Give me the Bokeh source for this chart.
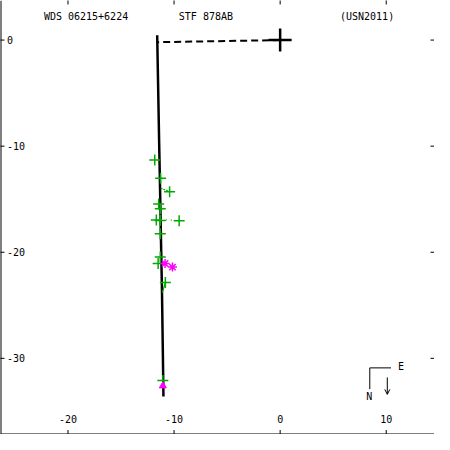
import numpy as np
from bokeh.plotting import figure
from bokeh.models import Range1d, Span, Arrow, OpenHead, ColumnDataSource
from bokeh.core.properties import value
from bokeh.embed import file_html
from bokeh.resources import INLINE

# ---------------- data ----------------
# orbit arc (apparent relative orbit, arcsec-like units)
orbit_x = [-11.59, -11.50, -11.41, -11.32, -11.23, -11.14, -11.05, -11.00]
orbit_y = [0.45, -4.45, -9.45, -14.0, -19.0, -23.55, -29.9, -33.6]

# line of nodes / periastron line from primary
node_x = [0.0, -11.55]
node_y = [0.0, -0.2]

# micrometer observations (green +)
micro_x = [-11.82, -11.27, -10.42, -11.45, -11.30, -11.67, -11.30, -9.52,
           -11.30, -11.30, -11.50, -10.82, -11.06]
micro_y = [-11.3, -13.03, -14.3, -15.45, -15.9, -16.97, -17.0, -17.03,
           -18.25, -20.45, -21.06, -22.85, -32.1]

# residual lines (observed -> predicted)
res_obs_x = [-10.42, -9.52, -10.82]
res_obs_y = [-14.3, -17.03, -22.85]
res_pred_x = [-11.27, -11.25, -11.10]
res_pred_y = [-13.95, -16.9, -23.8]
res_dash = ["2 1", "1 4", "solid"]

# speckle observations (magenta *)
speck_x = [-10.85, -10.15]
speck_y = [-21.06, -21.4]

# other technique (magenta triangle)
tri_x = [-11.06]
tri_y = [-32.6]

# axis ticks
xticks = [-20, -10, 0, 10]
yticks = [0, -10, -20, -30]

X0, X1 = -26.36, 14.55
Y0, Y1 = -37.18, 3.73

FONT = value("DejaVu Sans Mono")
GREEN = "#00aa00"
MAG = "#ff00ff"

p = figure(width=434, height=434, output_backend="svg", toolbar_location=None,
           x_range=Range1d(X0, X1), y_range=Range1d(Y0, Y1),
           min_border=0, outline_line_color=None)
p.axis.visible = False
p.grid.visible = False
p.background_fill_color = "white"

# frame lines (left & bottom)
p.add_layout(Span(location=X0, dimension="height", line_color="black", line_width=2))
p.add_layout(Span(location=Y0, dimension="width", line_color="black", line_width=2))

# tick marks
p.scatter(x=xticks, y=[Y1] * len(xticks), marker="dash", angle=np.pi / 2, size=8,
          line_color="black", line_width=1)
p.scatter(x=xticks, y=[Y0] * len(xticks), marker="dash", angle=np.pi / 2, size=9,
          line_color="black", line_width=1)
p.scatter(x=[X0] * len(yticks), y=yticks, marker="dash", size=8,
          line_color="black", line_width=1)
p.scatter(x=[X1] * len(yticks), y=yticks, marker="dash", size=8,
          line_color="black", line_width=1)

# tick labels
p.text(x=xticks, y=[-35.7] * len(xticks), text=[str(t) for t in xticks],
       text_font=FONT, text_font_size="10px", text_align="center",
       text_baseline="middle", text_color="black")
p.text(x=[-25.75] * len(yticks), y=yticks, text=[str(t) for t in yticks],
       text_font=FONT, text_font_size="10px", text_align="left",
       text_baseline="middle", text_color="black")

# header
p.text(x=[-22.27], y=[2.18], text=["WDS 06215+6224"], text_font=FONT,
       text_font_size="10px", text_align="left", text_baseline="middle")
p.text(x=[-9.55], y=[2.18], text=["STF 878AB"], text_font=FONT,
       text_font_size="10px", text_align="left", text_baseline="middle")
p.text(x=[5.64], y=[2.18], text=["(USN2011)"], text_font=FONT,
       text_font_size="10px", text_align="left", text_baseline="middle")

# orbit & node line
p.line(orbit_x, orbit_y, line_color="black", line_width=2.5)
p.line(node_x, node_y, line_color="black", line_width=2, line_dash="7 4")

# primary
p.scatter(x=[0], y=[0], marker="cross", size=23, line_color="black", line_width=2.5)

# residual lines
for ox, oy, px_, py_, d in zip(res_obs_x, res_obs_y, res_pred_x, res_pred_y, res_dash):
    p.line([px_, ox], [py_, oy], line_color=GREEN, line_width=1.2, line_dash=d)

# observations
p.scatter(x=micro_x, y=micro_y, marker="cross", size=11, line_color=GREEN, line_width=1.5)
p.scatter(x=speck_x, y=speck_y, marker="asterisk", size=9, line_color=MAG, line_width=1.5)
p.scatter(x=tri_x, y=tri_y, marker="triangle", size=7, line_color=MAG, fill_color=MAG)

# compass
p.line([10.45, 8.45, 8.45], [-30.9, -30.9, -32.9], line_color="black", line_width=1)
p.text(x=[11.1], y=[-30.8], text=["E"], text_font=FONT, text_font_size="10px",
       text_align="left", text_baseline="middle")
p.text(x=[8.4], y=[-33.6], text=["N"], text_font=FONT, text_font_size="10px",
       text_align="center", text_baseline="middle")
p.add_layout(Arrow(end=OpenHead(size=5, line_width=1, line_color="black"),
                   x_start=10.1, y_start=-31.8, x_end=10.1, y_end=-33.4,
                   line_color="black", line_width=1))

open("out.html", "w").write(file_html(p, INLINE))
